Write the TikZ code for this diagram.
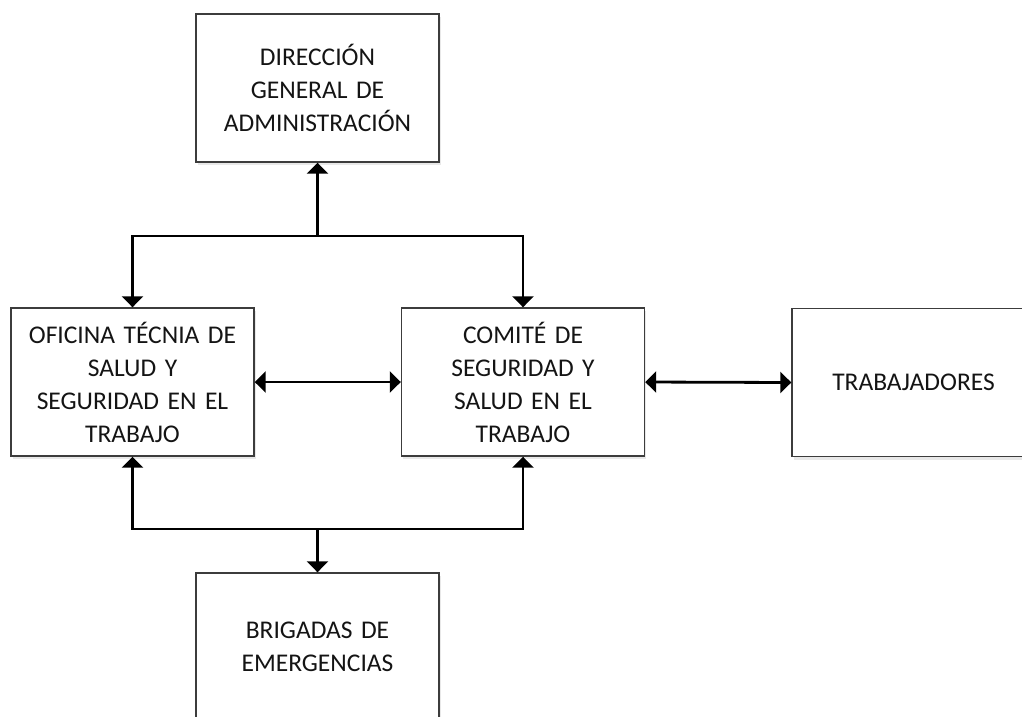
\documentclass[tikz,border=0pt]{standalone}
\usepackage{fontspec}
\setmainfont{Carlito}
\usetikzlibrary{arrows.meta,shadows}
\definecolor{txt}{HTML}{141414}
\definecolor{brd}{HTML}{3C3C3C}
\tikzset{
  box/.style={draw=brd, line width=1.4pt, fill=white, minimum width=243pt, minimum height=148pt,
    inner sep=0pt, text width=240pt, align=center, text=txt,
    font=\fontsize{25.5}{33}\selectfont,
    drop shadow={shadow xshift=1.5pt, shadow yshift=-3pt, opacity=0.18, fill=gray}},
  conn/.style={line width=2.8pt, black, -{Triangle[width=21pt,length=11pt]}},
  dconn/.style={line width=2.8pt, black, {Triangle[width=21pt,length=11pt]}-{Triangle[width=21pt,length=11pt]}}
}
\begin{document}
\begin{tikzpicture}[x=1pt,y=-1pt]
\clip (0,0) rectangle (1022,716);
\fill[white] (0,0) rectangle (1022,716);
\node[box] (dir) at (317.5,88) {DIRECCIÓN\\GENERAL DE\\ADMINISTRACIÓN};
\node[box] (ofi) at (132.5,382) {OFICINA TÉCNIA DE\\SALUD Y\\SEGURIDAD EN EL\\TRABAJO};
\node[box] (com) at (523,382) {COMITÉ DE\\SEGURIDAD Y\\SALUD EN EL\\TRABAJO};
\node[box] (tra) at (913.5,382.5) {TRABAJADORES};
\node[box] (bri) at (317.5,647) {BRIGADAS DE\\EMERGENCIAS};
\coordinate (j1) at (317.5,236);
\coordinate (j2) at (317.5,529);
\draw[conn] (j1) -- (dir.south);
\draw[conn] (j1) -| (ofi.north);
\draw[conn] (j1) -| (com.north);
\draw[conn] (j2) -- (bri.north);
\draw[conn] (j2) -| (ofi.south);
\draw[conn] (j2) -| (com.south);
\draw[dconn] (ofi.east) -- (com.west);
\draw[dconn] (com.east) -- (tra.west);
\end{tikzpicture}
\end{document}
